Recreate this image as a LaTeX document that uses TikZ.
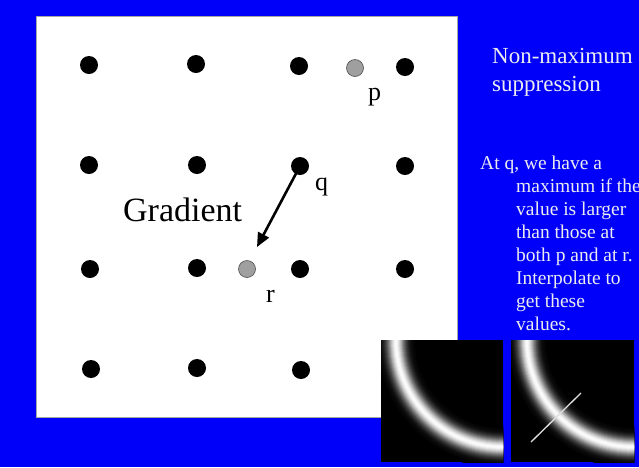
\documentclass[tikz,border=0pt]{standalone}
\usepackage{fontspec}
\setmainfont{Liberation Serif}
\usetikzlibrary{arrows.meta}
\definecolor{bgblue}{RGB}{0,0,250}
\definecolor{txtwhite}{RGB}{235,235,240}
\tikzset{
  dot/.style={circle,fill=black,minimum size=18pt,inner sep=0pt},
  graydot/.style={circle,fill=gray!75,draw=gray!60!black,line width=0.6pt,minimum size=17pt,inner sep=0pt},
  lbl/.style={anchor=base west,inner sep=0pt,font=\fontsize{26}{26}\selectfont},
  title/.style={anchor=base west,inner sep=0pt,text=txtwhite,font=\fontsize{23}{23}\selectfont},
  body/.style={anchor=base west,inner sep=0pt,text=txtwhite,font=\fontsize{19.5}{19.5}\selectfont},
  grad/.style={-{Triangle[length=14pt,width=12pt]},line width=2.6pt},
}
\newcommand{\glowimg}[4]{% x0 y0 x1 y1
  \begin{scope}
    \clip (#1,#2) rectangle (#3,#4);
    \fill[black] (#1,#2) rectangle (#3,#4);
    \foreach \d in {22,21,...,1}{
      \pgfmathtruncatemacro{\b}{100*exp(-(\d*\d)/(2*42))}
      \draw[line width=2*\d pt, color=white!\b!black] (#3,#2) circle (107);
    }
  \end{scope}
}
\begin{document}
\begin{tikzpicture}[x=1pt,y=-1pt]
\useasboundingbox (0,0) rectangle (639,467);
\fill[bgblue] (0,0) rectangle (639,467);
\fill[white] (36,16) rectangle (457,417);
\draw[gray!70,line width=0.8pt] (36,16) rectangle (457,417);

% dots
\node[dot] (a11) at (89,65) {};
\node[dot] (a12) at (196,64) {};
\node[dot] (a13) at (299,66) {};
\node[graydot] (p) at (355,68) {};
\node[dot] (a14) at (405,67) {};
\node[dot] (a21) at (89,165) {};
\node[dot] (a22) at (197,165) {};
\node[dot] (q) at (300,166) {};
\node[dot] (a24) at (405,166) {};
\node[dot] (a31) at (90,269) {};
\node[dot] (a32) at (197,268) {};
\node[graydot] (r) at (247,269) {};
\node[dot] (a33) at (300,269) {};
\node[dot] (a34) at (405,269) {};
\node[dot] (a41) at (91,369) {};
\node[dot] (a42) at (197,368) {};
\node[dot] (a43) at (301,370) {};

\coordinate (tip) at (257,247);
\draw[grad] (q.center) -- (tip);

\node[lbl] (lp) at (368,100) {p};
\node[lbl] (lq) at (315,190) {q};
\node[lbl] (lr) at (266,302) {r};
\node[anchor=base west,inner sep=0pt,font=\fontsize{34}{34}\selectfont] (gradtxt) at (123,221) {Gradient};

% title
\node[title] (t1) at (492,63) {Non-maximum};
\node[title] (t2) at (492,91) {suppression};

% body
\node[body] (b1) at (480,169) {At q, we have a};
\node[body] (b2) at (516,192) {maximum if the};
\node[body] (b3) at (516,215) {value is larger};
\node[body] (b4) at (516,238) {than those at};
\node[body] (b5) at (516,261) {both p and at r.};
\node[body] (b6) at (516,284) {Interpolate to};
\node[body] (b7) at (516,307) {get these};
\node[body] (b8) at (516,330) {values.};

% images
\glowimg{381}{340}{503}{462}
\glowimg{511}{340}{634}{462}
\coordinate (l1) at (531,442);
\coordinate (l2) at (581,393);
\draw[gray!25!white,line width=1.3pt] (l1) -- (l2);
\end{tikzpicture}
\end{document}
